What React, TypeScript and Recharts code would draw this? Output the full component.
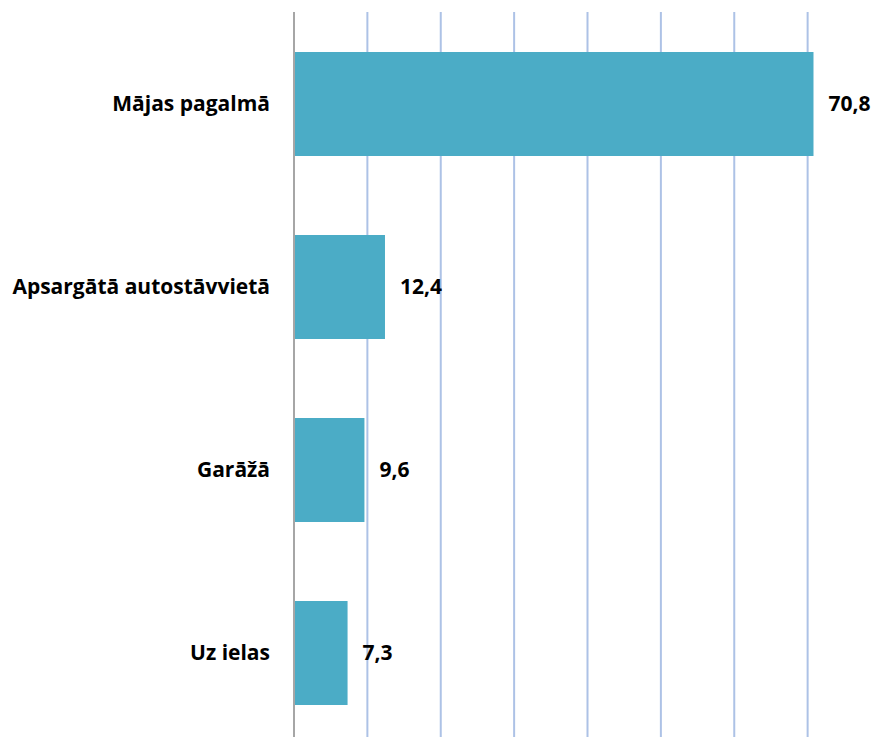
import React from 'react';
import { BarChart, Bar, XAxis, YAxis, CartesianGrid, LabelList } from 'recharts';

const categories = ['Mājas pagalmā', 'Apsargātā autostāvvietā', 'Garāžā', 'Uz ielas'];
const values = [70.8, 12.4, 9.6, 7.3];
const xTicks = [0, 10, 20, 30, 40, 50, 60, 70, 80];

const data = categories.map((name, i) => ({ name, value: values[i] }));

const FONT = '"Open Sans", "Liberation Sans", sans-serif';

export default function App() {
  return (
    <div style={{ position: 'absolute', left: 0, top: 0, width: 877, height: 737, overflow: 'hidden', background: '#fff' }}>
      <BarChart
        width={885}
        height={750}
        data={data}
        layout="vertical"
        margin={{ top: 12, right: 4, bottom: 6, left: 0 }}
        barSize={104}
      >
        <CartesianGrid horizontal={false} vertical={true} stroke="#adc2e6" strokeWidth={2} />
        <XAxis type="number" domain={[0, 80]} ticks={xTicks} hide />
        <YAxis
          type="category"
          dataKey="name"
          width={294}
          tickLine={false}
          tickSize={0}
          tickMargin={24}
          axisLine={{ stroke: '#a6a6a6', strokeWidth: 2 }}
          tick={{ fill: '#000', fontSize: 21, fontWeight: 700, fontFamily: FONT }}
        />
        <Bar dataKey="value" fill="#4bacc6" isAnimationActive={false}>
          <LabelList
            dataKey="value"
            position="right"
            offset={15}
            formatter={(v: any) => String(v).replace('.', ',')}
            style={{ fill: '#000', fontSize: 21, fontWeight: 700, fontFamily: FONT }}
          />
        </Bar>
      </BarChart>
    </div>
  );
}
